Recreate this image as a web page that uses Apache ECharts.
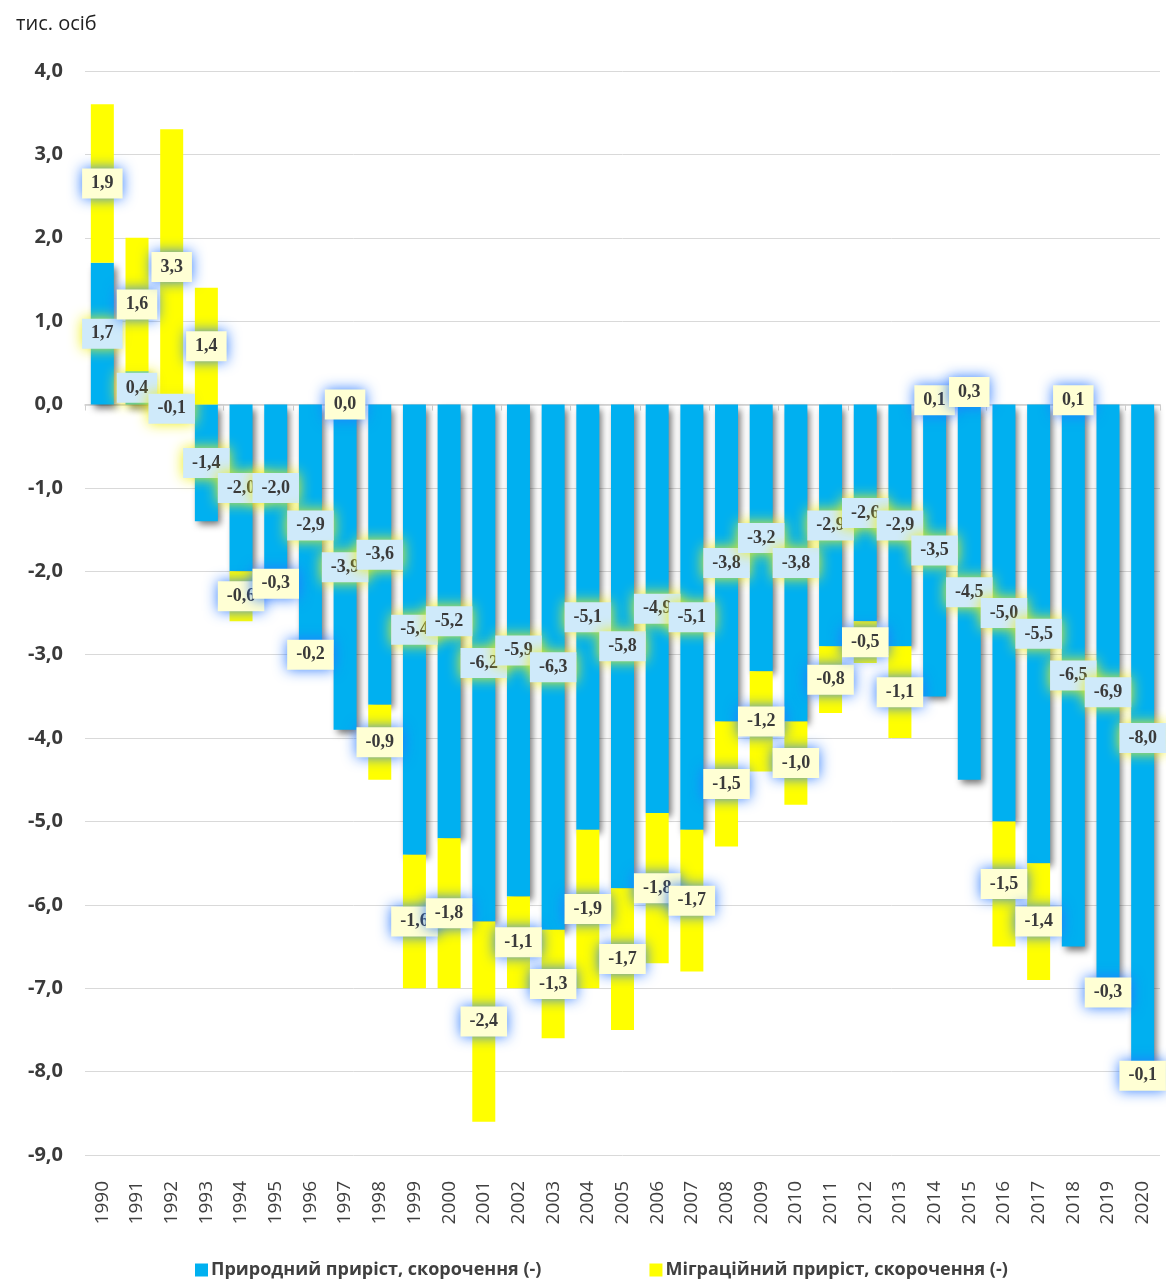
<!DOCTYPE html>
<html>
<head>
<meta charset="utf-8">
<script src="https://cdn.jsdelivr.net/npm/echarts@6/dist/echarts.min.js"></script>
<style>
html,body{margin:0;padding:0;background:#fff;}
#chart{width:1166px;height:1281px;}
</style>
</head>
<body>
<div id="chart"></div>
<script>
const years = ['1990','1991','1992','1993','1994','1995','1996','1997','1998','1999','2000','2001','2002','2003','2004','2005','2006','2007','2008','2009','2010','2011','2012','2013','2014','2015','2016','2017','2018','2019','2020'];
const naturalGrowth = [1.7,0.4,-0.1,-1.4,-2.0,-2.0,-2.9,-3.9,-3.6,-5.4,-5.2,-6.2,-5.9,-6.3,-5.1,-5.8,-4.9,-5.1,-3.8,-3.2,-3.8,-2.9,-2.6,-2.9,-3.5,-4.5,-5.0,-5.5,-6.5,-6.9,-8.0];
const migrationGrowth = [1.9,1.6,3.3,1.4,-0.6,-0.3,-0.2,0.0,-0.9,-1.6,-1.8,-2.4,-1.1,-1.3,-1.9,-1.7,-1.8,-1.7,-1.5,-1.2,-1.0,-0.8,-0.5,-1.1,0.1,0.3,-1.5,-1.4,0.1,-0.3,-0.1];
const seriesNames = ['Природний приріст, скорочення (-)', 'Міграційний приріст, скорочення (-)'];
const unitLabel = 'тис. осіб';

const fmt = v => Number(v).toFixed(1).replace('.', ',');
// Like the source spreadsheet, a zero value is stacked on the positive side (at the zero line).
const stackZeroPositive = arr => arr.map(v => (v === 0 ? 1e-9 : v));

const chart = echarts.init(document.getElementById('chart'));
const labelBase = {
  show: true,
  position: 'inside',
  formatter: p => fmt(p.value),
  fontFamily: 'Liberation Serif',
  fontWeight: 'bold',
  fontSize: 18,
  lineHeight: 18,
  color: '#3a3a3a',
  padding: [6, 9],
  shadowBlur: 14
};
chart.setOption({
  animation: false,
  title: {
    text: unitLabel,
    left: 11, top: 9,
    textStyle: {fontFamily: 'Open Sans', fontWeight: 'normal', fontSize: 20, color: '#222'}
  },
  legend: {
    bottom: -3,
    left: 190,
    itemWidth: 13, itemHeight: 13,
    itemGap: 108,
    icon: 'rect',
    textStyle: {fontFamily: 'Open Sans', fontWeight: 'bold', fontSize: 18, color: '#404040', padding: [0,0,0,-2]},
    data: seriesNames
  },
  grid: {left: 85, right: 6, top: 71, bottom: 126, containLabel: false},
  xAxis: [{
    type: 'category',
    data: years,
    position: 'bottom',
    axisLine: {show: false, onZero: false},
    axisTick: {show: false},
    axisLabel: {rotate: 90, fontFamily: 'Open Sans', fontSize: 19, color: '#404040', margin: 26}
  }, {
    type: 'category',
    data: years,
    position: 'top',
    axisLine: {show: true, onZero: true, lineStyle: {color: '#d0d0d0', width: 1.5}},
    axisTick: {show: true, inside: true, length: 6, lineStyle: {color: '#d0d0d0'}},
    axisLabel: {show: false}
  }],
  yAxis: {
    type: 'value',
    min: -9, max: 4, interval: 1,
    axisLine: {show: false},
    axisTick: {show: false},
    splitLine: {lineStyle: {color: '#d9d9d9', width: 1}},
    axisLabel: {formatter: v => fmt(v), fontFamily: 'Open Sans', fontWeight: 'bold', fontSize: 20, color: '#3a3a3a', margin: 22}
  },
  series: [{
    name: seriesNames[0],
    type: 'bar',
    stack: 'total',
    barWidth: 23,
    data: naturalGrowth,
    itemStyle: {color: '#00b0f0', shadowColor: 'rgba(0,0,0,0.55)', shadowBlur: 7, shadowOffsetX: 3, shadowOffsetY: 4},
    label: Object.assign({}, labelBase, {backgroundColor: '#cfeafa', shadowColor: 'rgba(240,240,20,1)'})
  }, {
    name: seriesNames[1],
    type: 'bar',
    stack: 'total',
    barWidth: 23,
    data: stackZeroPositive(migrationGrowth),
    itemStyle: {color: '#ffff00'},
    label: Object.assign({}, labelBase, {backgroundColor: '#ffffd4', shadowColor: 'rgba(40,120,255,0.95)'})
  }]
});
</script>
</body>
</html>
